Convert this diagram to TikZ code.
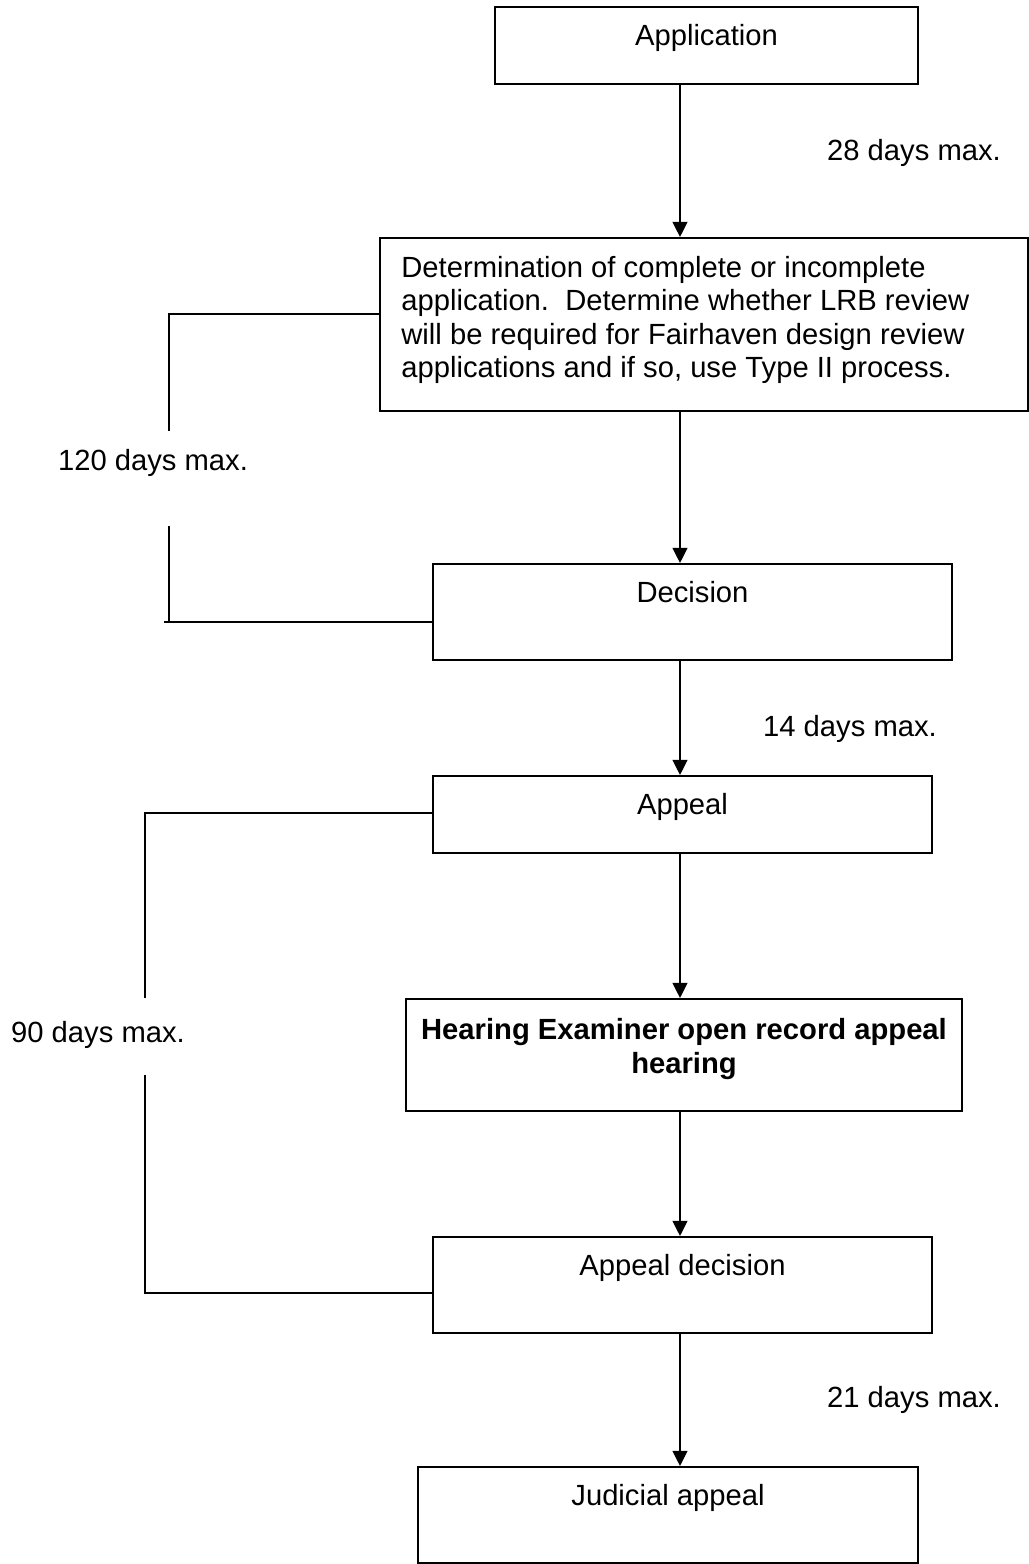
\documentclass[tikz,border=0pt]{standalone}
\usepackage{fontspec}
\setmainfont{Liberation Sans}
\usetikzlibrary{arrows.meta,fit}
\tikzstyle{stepbox}=[draw,line width=0.8pt,inner sep=0pt]
\tikzstyle{steptext}=[anchor=north,inner sep=0pt,align=center,font=\fontsize{12}{13.8}\selectfont]
\tikzstyle{flow}=[draw,line width=0.8pt,-{Triangle[length=6.2pt,width=6pt]}]
\tikzstyle{bracket}=[draw,line width=0.8pt]
\tikzstyle{days}=[inner sep=0pt,font=\fontsize{12}{13.8}\selectfont]

\begin{document}
\begin{tikzpicture}[x=0.411pt,y=-0.411pt]
\useasboundingbox (0,0) rectangle (1029,1564);
% boxes
\node[stepbox,fit={(495,7) (918,84)}] (app) {};
\node[stepbox,fit={(380,238) (1028,411)}] (det) {};
\node[stepbox,fit={(433,564) (952,660)}] (dec) {};
\node[stepbox,fit={(433,776) (932,853)}] (appeal) {};
\node[stepbox,fit={(406,999) (962,1111)}] (hearing) {};
\node[stepbox,fit={(433,1237) (932,1333)}] (appdec) {};
\node[stepbox,fit={(418,1467) (918,1563)}] (judicial) {};
% box texts
\node[steptext] (apptext) at ([yshift=-7.2pt]app.north) {Application};
\node[steptext,anchor=north west,align=left] (dettext) at ([xshift=9pt,yshift=-7.6pt]det.north west)
  {Determination of complete or incomplete\\
   application.\ \ Determine whether LRB review\\
   will be required for Fairhaven design review\\
   applications and if so, use Type II process.};
\node[steptext] (dectext) at ([yshift=-7.2pt]dec.north) {Decision};
\node[steptext] (appealtext) at ([yshift=-7.2pt]appeal.north) {Appeal};
\node[steptext,font=\fontsize{12}{13.8}\selectfont\bfseries] (hearingtext) at ([yshift=-8.2pt]hearing.north)
  {Hearing Examiner open record appeal\\hearing};
\node[steptext] (appdectext) at ([yshift=-7.2pt]appdec.north) {Appeal decision};
\node[steptext] (judicialtext) at ([yshift=-7.2pt]judicial.north) {Judicial appeal};
% arrows
\coordinate (axis) at (680,0);
\draw[flow] (app.south -| axis) -- (det.north -| axis);
\draw[flow] (det.south -| axis) -- (dec.north -| axis);
\draw[flow] (dec.south -| axis) -- (appeal.north -| axis);
\draw[flow] (appeal.south -| axis) -- (hearing.north -| axis);
\draw[flow] (hearing.south -| axis) -- (appdec.north -| axis);
\draw[flow] (appdec.south -| axis) -- (judicial.north -| axis);
% time limits
\node[days] (d28) at (914,153) {28 days max.};
\node[days] (d14) at (850,729) {14 days max.};
\node[days] (d21) at (914,1400) {21 days max.};
\node[days] (d120) at (153,463) {120 days max.};
\node[days] (d90) at (98,1035) {90 days max.};
% brackets
\coordinate (b120) at (169,314);
\coordinate (b120up) at (169,431);
\coordinate (b120lo) at (169,526);
\coordinate (b120end) at (164,622);
\draw[bracket] (det.west |- b120) -- (b120) -- (b120up);
\draw[bracket] (b120lo) -- (b120lo |- b120end);
\draw[bracket] (b120end) -- (dec.west |- b120end);
\coordinate (b90) at (145,813);
\coordinate (b90up) at (145,998);
\coordinate (b90lo) at (145,1075);
\coordinate (b90end) at (145,1293);
\draw[bracket] (appeal.west |- b90) -- (b90) -- (b90up);
\draw[bracket] (b90lo) -- (b90end) -- (appdec.west |- b90end);
\end{tikzpicture}
\end{document}
